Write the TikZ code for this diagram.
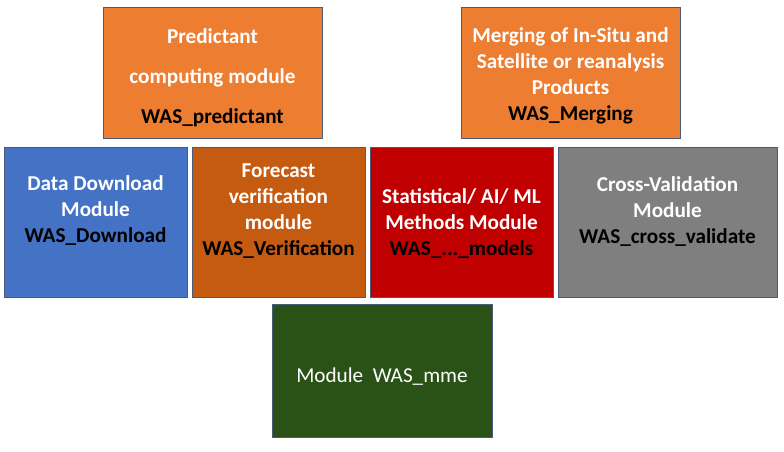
\documentclass[tikz,border=0pt]{standalone}
\usepackage{fontspec}
\setmainfont{Carlito}
\usepackage{tikz}
\usetikzlibrary{positioning}
\definecolor{edge}{HTML}{4A5A78}
\definecolor{wasOrange}{HTML}{ED7D31}
\definecolor{wasBlue}{HTML}{4472C4}
\definecolor{wasRust}{HTML}{C55A11}
\definecolor{wasRed}{HTML}{C00000}
\definecolor{wasGray}{HTML}{7F7F7F}
\definecolor{wasGreen}{HTML}{2A5216}
\newcommand{\was}[1]{\textcolor{black}{#1}}

\begin{document}
\begin{tikzpicture}[x=1pt,y=-1pt,node distance=5pt,
	every node/.style={inner sep=0,outer sep=0},
	box/.style={draw=edge,line width=0.8pt,minimum height=150pt},
	txt/.style={align=center,text=white,font=\fontsize{21.2}{26}\selectfont\bfseries}]
	\useasboundingbox (0,0) rectangle (784,452);
	% top row
	\node (pred) [box,fill=wasOrange,minimum width=219pt,minimum height=131pt] at (212.5,72.5) {};
	\node (merg) [box,fill=wasOrange,minimum width=219pt,minimum height=131pt] at (570.5,72.5) {};
	% middle row
	\node (down) [box,fill=wasBlue,minimum width=183pt] at (95.5,222) {};
	\node (verif) [box,fill=wasRust,minimum width=173pt,right=of down] {};
	\node (models) [box,fill=wasRed,minimum width=183pt,right=of verif] {};
	\node (cross) [box,fill=wasGray,minimum width=219pt,right=of models] {};
	% bottom
	\node (mme) [box,fill=wasGreen,minimum width=220pt,minimum height=133pt] at (382,370.5) {};
	% texts
	\node (pred-t) [txt] at ([yshift=-5pt]pred.center) {Predictant\\[14pt]computing module\\[14pt]\was{WAS\_predictant}};
	\node (merg-t) [txt] at ([yshift=-3pt]merg.center) {Merging of In-Situ and\\Satellite or reanalysis\\Products\\\was{WAS\_Merging}};
	\node (down-t) [txt] at ([yshift=11pt]down.center) {Data Download\\Module\\\was{WAS\_Download}};
	\node (verif-t) [txt] at ([yshift=11pt]verif.center) {Forecast\\verification\\module\\\was{WAS\_Verification}};
	\node (models-t) [txt] at ([yshift=-2pt]models.center) {Statistical/ AI/ ML\\Methods Module\\\was{WAS\_...\_models}};
	\node (cross-t) [txt] at ([yshift=10pt]cross.center) {Cross-Validation\\Module\\\was{WAS\_cross\_validate}};
	\node (mme-t) [txt,font=\fontsize{21.2}{26}\selectfont] at ([yshift=-6pt]mme.center) {Module\ \ WAS\_mme};
\end{tikzpicture}
\end{document}
